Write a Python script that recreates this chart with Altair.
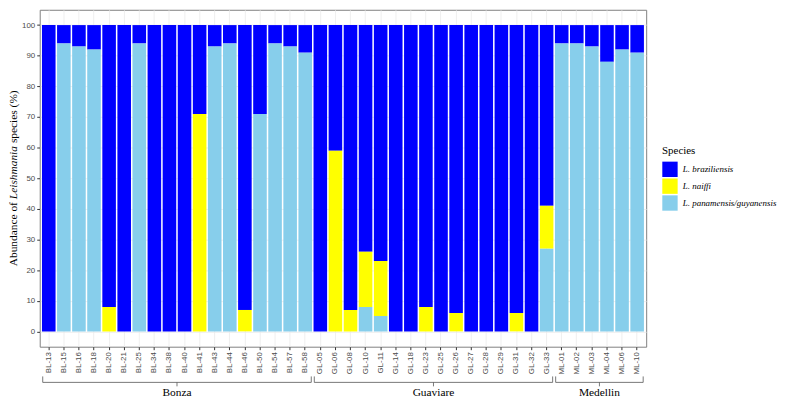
import altair as alt
import pandas as pd

# ---------------- data ----------------
group_names = ["Bonza", "Guaviare", "Medellin"]
bonza_samples = ["BL-13", "BL-15", "BL-16", "BL-18", "BL-20", "BL-21", "BL-25", "BL-34", "BL-38",
                 "BL-40", "BL-41", "BL-43", "BL-44", "BL-46", "BL-50", "BL-54", "BL-57", "BL-58"]
guaviare_samples = ["GL-05", "GL-06", "GL-08", "GL-10", "GL-11", "GL-14", "GL-18", "GL-23",
                    "GL-25", "GL-26", "GL-27", "GL-28", "GL-29", "GL-31", "GL-32", "GL-33"]
medellin_samples = ["ML-01", "ML-02", "ML-03", "ML-04", "ML-06", "ML-10"]

species = ["L. braziliensis", "L. naiffi", "L. panamensis/guyanensis"]
colors = ["#0000FF", "#FFFF00", "#87CEEB"]

# abundance (%) per sample, in the same order as the sample lists
braziliensis = [100, 6, 7, 8, 92, 100, 6, 100, 100, 100, 29, 7, 6, 93, 29, 6, 7, 9,
                100, 41, 93, 74, 77, 100, 100, 92, 100, 94, 100, 100, 100, 94, 100, 59,
                6, 6, 7, 12, 8, 9]
naiffi = [0, 0, 0, 0, 8, 0, 0, 0, 0, 0, 71, 0, 0, 7, 0, 0, 0, 0,
          0, 59, 7, 18, 18, 0, 0, 8, 0, 6, 0, 0, 0, 6, 0, 14,
          0, 0, 0, 0, 0, 0]
panamensis = [0, 94, 93, 92, 0, 0, 94, 0, 0, 0, 0, 93, 94, 0, 71, 94, 93, 91,
              0, 0, 0, 8, 5, 0, 0, 0, 0, 0, 0, 0, 0, 0, 0, 27,
              94, 94, 93, 88, 92, 91]

group_samples = [bonza_samples, guaviare_samples, medellin_samples]
samples = bonza_samples + guaviare_samples + medellin_samples

# long table for stacked bars
rows = []
series = [braziliensis, naiffi, panamensis]
stack_rank = [2, 1, 0]  # panamensis at bottom, braziliensis on top
for i, s in enumerate(samples):
    for k, sp in enumerate(species):
        rows.append({"sample": s, "species": sp, "value": series[k][i], "rank": stack_rank[k]})
df = pd.DataFrame(rows)

# bracket table derived from group membership (band index units)
br = []
idx = 0
for g, lst in zip(group_names, group_samples):
    first = idx
    last = idx + len(lst) - 1
    br.append({"group": g, "start": first + 0.2, "end": last + 1.0,
               "mid": (first + last + 1.2) / 2})
    idx += len(lst)
brace_df = pd.DataFrame(br)
n_total = len(samples)

# ---------------- layout / style ----------------
W, H = 612, 340
SERIF = "'Liberation Serif', 'Times New Roman', Times, serif"
SANS = "'Liberation Sans', Arial, Helvetica, sans-serif"
GRID = "#EBEBEB"
TICKC = "#333333"
LABC = "#4D4D4D"

bars = alt.Chart(df).mark_bar().encode(
    x=alt.X("sample:N", sort=samples,
            scale=alt.Scale(paddingInner=0.1, paddingOuter=0.15),
            axis=alt.Axis(title=None, labelAngle=270, labelFontSize=8, labelFont=SANS,
                          labelColor=LABC, tickColor=TICKC, tickSize=3, labelPadding=2,
                          domain=False, grid=True, gridColor=GRID, gridWidth=0.8)),
    y=alt.Y("value:Q", stack="zero",
            scale=alt.Scale(domain=[-5, 105], nice=False, zero=False),
            axis=alt.Axis(title=None, values=list(range(0, 101, 10)), labelFontSize=8,
                          labelFont=SANS, labelColor=LABC, tickColor=TICKC, tickSize=3,
                          labelPadding=2, domain=False, grid=True, gridColor=GRID,
                          gridWidth=0.8)),
    color=alt.Color("species:N", scale=alt.Scale(domain=species, range=colors),
                    legend=alt.Legend(title="Species", orient="none", legendX=W + 16,
                                      legendY=H / 2 - 33, titleFont=SERIF,
                                      titleFontSize=11, titleFontWeight="normal",
                                      titleColor="black", titlePadding=5,
                                      labelFont=SERIF, labelFontStyle="italic",
                                      labelFontSize=9, labelColor="black",
                                      labelOffset=5, symbolType="square",
                                      symbolSize=240, symbolStrokeWidth=0,
                                      rowPadding=1, padding=0, labelLimit=200)),
    order=alt.Order("rank:Q"),
)

xs = alt.Scale(domain=[0, n_total + 0.2], nice=False, zero=False)
bb = alt.Chart(brace_df)
BRY = H + 36
BCOL = "#555555"
hline = bb.mark_rule(color=BCOL, strokeWidth=0.8).encode(
    x=alt.X("start:Q", scale=xs, axis=None), x2="end:Q", y=alt.value(BRY))
lend = bb.mark_rule(color=BCOL, strokeWidth=0.8).encode(
    x=alt.X("start:Q", scale=xs, axis=None), y=alt.value(BRY - 6), y2=alt.value(BRY))
rend = bb.mark_rule(color=BCOL, strokeWidth=0.8).encode(
    x=alt.X("end:Q", scale=xs, axis=None), y=alt.value(BRY - 6), y2=alt.value(BRY))
ctip = bb.mark_rule(color=BCOL, strokeWidth=0.8).encode(
    x=alt.X("mid:Q", scale=xs, axis=None), y=alt.value(BRY), y2=alt.value(BRY + 4))
glab = bb.mark_text(font=SERIF, fontSize=11.5, baseline="middle", color="black").encode(
    x=alt.X("mid:Q", scale=xs, axis=None), y=alt.value(BRY + 11), text="group:N")

# y-axis title in three pieces (normal / italic / normal), rotated
FS = 11.5
w1, w2, ws, w3 = 5.887 * FS, 4.667 * FS, 0.25 * FS, 4.637 * FS
total = w1 + w2 + ws + w3
y1 = H / 2 + total / 2
y2 = y1 - w1
y3 = y2 - w2 - ws
TX = -26


def tpiece(txt, yy, style):
    return alt.Chart(pd.DataFrame({"t": [txt]})).mark_text(
        font=SERIF, fontSize=FS, fontStyle=style, angle=270, align="left",
        baseline="middle", color="black").encode(
        text="t:N", x=alt.value(TX), y=alt.value(yy))


t1 = tpiece("Abundance of", y1, "normal")
t2 = tpiece("Leishmania", y2, "italic")
t3 = tpiece("species (%)", y3, "normal")

chart = alt.layer(bars, hline, lend, rend, ctip, glab, t1, t2, t3).resolve_scale(
    x="independent").properties(width=W, height=H, padding=0).configure_view(
    stroke="#7F7F7F", strokeWidth=1)

chart.save("out.html", embed_options={"renderer": "svg", "actions": False})
